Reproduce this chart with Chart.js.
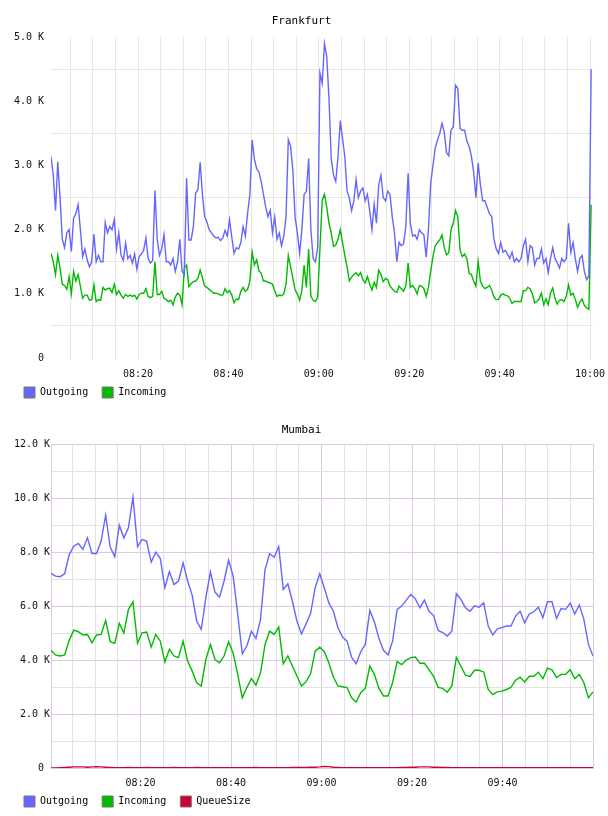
<!DOCTYPE html>
<html>
<head>
<meta charset="utf-8">
<script src="https://cdn.jsdelivr.net/npm/chart.js@4.4.1/dist/chart.umd.min.js"></script>
<style>
  html, body { margin: 0; padding: 0; background: #fff; overflow: hidden; }
  #wrap { position: relative; width: 608px; height: 816px; }
  canvas { position: absolute; left: 0; }
  #frankfurt { top: 0; }
  #mumbai { top: 407px; }
</style>
</head>
<body>
<div id="wrap">
  <canvas id="frankfurt" width="608" height="408"></canvas>
  <canvas id="mumbai" width="608" height="410"></canvas>
</div>
<script>
/////////////////////
//    Constants    //
/////////////////////
const FONT = "'DejaVu Sans Mono', 'Liberation Mono', monospace";
const COLOR_OUT = '#6666ff';
const COLOR_IN = '#00bb00';
const COLOR_QUEUE = '#cc0033';
const GRID_GREY = '#e6e6e6';
const GRID_MINOR = '#e2e2e2';
const GRID_PURPLE = '#dfc6e6';

// Frankfurt: one sample every 30 s, first at 08:00:45 (minutes after 08:00), values in K
const FRANKFURT_START = 0.75;
const FRANKFURT_STEP = 0.5;
const frankfurtOutgoing = [
  3.14, 2.85, 2.3, 3.06, 2.5, 1.85, 1.72, 1.95, 2.0, 1.66,
  2.18, 2.25, 2.39, 2.0, 1.58, 1.7, 1.53, 1.42, 1.5, 1.93,
  1.5, 1.6, 1.5, 1.5, 2.11, 1.95, 2.05, 2.0, 2.16, 1.7,
  1.95, 1.6, 1.52, 1.79, 1.55, 1.6, 1.48, 1.62, 1.38, 1.58,
  1.62, 1.68, 1.87, 1.55, 1.48, 1.52, 2.61, 1.85, 1.6, 1.7,
  1.92, 1.5, 1.5, 1.45, 1.55, 1.35, 1.5, 1.85, 1.35, 1.3,
  2.8, 1.84, 1.84, 2.05, 2.57, 2.62, 3.05, 2.55, 2.2, 2.12,
  2.0, 1.95, 1.9, 1.87, 1.88, 1.83, 1.87, 1.99, 1.9, 2.15,
  1.88, 1.63, 1.72, 1.7, 1.8, 2.05, 1.9, 2.26, 2.55, 3.4,
  3.1, 2.95, 2.9, 2.75, 2.55, 2.35, 2.2, 2.3, 1.95, 2.2,
  1.85, 1.95, 1.75, 1.9, 2.2, 3.4, 3.3, 2.93, 2.2, 1.95,
  1.63, 2.0, 2.55, 2.6, 3.11, 2.0, 1.55, 1.5, 1.72, 4.44,
  4.28, 4.9, 4.7, 4.05, 3.1, 2.85, 2.75, 3.14, 3.7, 3.42,
  3.14, 2.6, 2.5, 2.3, 2.45, 2.78, 2.5, 2.6, 2.65, 2.45,
  2.55, 2.3, 2.0, 2.4, 2.1, 2.7, 2.85, 2.5, 2.45, 2.6,
  2.55, 2.2, 1.95, 1.5, 1.8, 1.75, 1.78, 2.05, 2.88, 2.1,
  1.9, 1.92, 1.85, 2.0, 1.95, 1.92, 1.57, 2.0, 2.72, 3.0,
  3.27, 3.4, 3.5, 3.66, 3.52, 3.2, 3.15, 3.55, 3.6, 4.25,
  4.2, 3.58, 3.55, 3.55, 3.38, 3.3, 3.15, 2.9, 2.5, 3.04,
  2.7, 2.45, 2.45, 2.35, 2.25, 2.2, 1.85, 1.7, 1.63, 1.8,
  1.65, 1.68, 1.62, 1.55, 1.65, 1.5, 1.55, 1.5, 1.55, 1.75,
  1.85, 1.5, 1.75, 1.72, 1.45, 1.55, 1.55, 1.7, 1.48, 1.55,
  1.33, 1.55, 1.72, 1.55, 1.48, 1.4, 1.55, 1.5, 1.55, 2.1,
  1.65, 1.8, 1.55, 1.35, 1.55, 1.6, 1.35, 1.22, 1.28, 4.5
];
const frankfurtIncoming = [
  1.63, 1.5, 1.3, 1.6, 1.4, 1.15, 1.13, 1.07, 1.27, 1.0,
  1.35, 1.2, 1.3, 1.12, 0.93, 0.98, 0.98, 0.9, 0.91, 1.14,
  0.88, 0.91, 0.9, 1.1, 1.06, 1.08, 1.09, 1.02, 1.15, 0.99,
  1.05, 0.98, 0.93, 0.99, 0.96, 0.98, 0.96, 0.98, 0.92, 0.99,
  1.01, 1.01, 1.08, 0.96, 0.94, 0.96, 1.5, 0.99, 0.99, 1.04,
  0.93, 0.91, 0.88, 0.9, 0.83, 0.95, 1.01, 0.98, 0.83, 1.4,
  1.45, 1.11, 1.16, 1.19, 1.2, 1.24, 1.37, 1.25, 1.12, 1.1,
  1.07, 1.04, 1.01, 1.01, 1.0, 0.98, 0.98, 1.08, 1.02, 1.05,
  0.98, 0.86, 0.92, 0.91, 1.04, 1.1, 1.04, 1.07, 1.2, 1.65,
  1.45, 1.53, 1.36, 1.32, 1.2, 1.2, 1.18, 1.17, 1.15, 1.05,
  0.96, 0.98, 0.97, 1.0, 1.15, 1.6, 1.42, 1.25, 1.06, 1.0,
  0.9, 1.05, 1.45, 1.1, 1.7, 0.96, 0.9, 0.88, 0.95, 1.7,
  2.46, 2.55, 2.35, 2.1, 1.95, 1.74, 1.76, 1.85, 2.0, 1.8,
  1.6, 1.42, 1.2, 1.26, 1.3, 1.33, 1.28, 1.33, 1.22, 1.17,
  1.27, 1.15, 1.06, 1.18, 1.1, 1.37, 1.3, 1.19, 1.24, 1.22,
  1.12, 1.08, 1.04, 1.02, 1.12, 1.08, 1.04, 1.12, 1.48, 1.1,
  1.13, 1.08, 1.0, 1.13, 1.12, 1.08, 0.96, 1.1, 1.35, 1.58,
  1.75, 1.8, 1.84, 1.92, 1.72, 1.61, 1.64, 2.0, 2.1, 2.3,
  2.2, 1.68, 1.58, 1.62, 1.55, 1.32, 1.3, 1.2, 1.12, 1.5,
  1.2, 1.12, 1.08, 1.1, 1.13, 1.06, 0.95, 0.91, 0.91, 0.98,
  1.0, 0.98, 0.97, 0.93, 0.85, 0.88, 0.88, 0.88, 0.88, 1.05,
  1.05, 1.1, 1.08, 1.0, 0.86, 0.88, 0.92, 1.01, 0.83, 0.92,
  0.83, 1.01, 1.09, 0.93, 0.84, 0.9, 0.91, 0.88, 0.96, 1.14,
  0.98, 1.01, 0.91, 0.79, 0.87, 0.92, 0.82, 0.78, 0.76, 2.39
];

// Mumbai: one sample about every minute, first at 08:00:12, values in K
const MUMBAI_START = 0.2;
const MUMBAI_STEP = 1.0067;
const mumbaiOutgoing = [
  7.21, 7.11, 7.09, 7.2, 7.91, 8.22, 8.32, 8.1, 8.53, 7.95,
  7.95, 8.4, 9.37, 8.19, 7.83, 9.0, 8.53, 8.9, 10.04, 8.2,
  8.47, 8.4, 7.63, 8.0, 7.76, 6.68, 7.28, 6.8, 6.93, 7.6,
  6.93, 6.4, 5.44, 5.14, 6.31, 7.27, 6.52, 6.33, 6.93, 7.7,
  7.11, 5.69, 4.23, 4.52, 5.07, 4.8, 5.51, 7.36, 7.94, 7.81,
  8.2, 6.62, 6.83, 6.19, 5.44, 4.97, 5.34, 5.73, 6.68, 7.2,
  6.68, 6.12, 5.81, 5.2, 4.85, 4.7, 4.11, 3.86, 4.31, 4.58,
  5.84, 5.42, 4.8, 4.36, 4.19, 4.7, 5.88, 6.0, 6.22, 6.43,
  6.27, 5.94, 6.22, 5.81, 5.65, 5.1, 5.02, 4.89, 5.07, 6.46,
  6.25, 5.94, 5.81, 6.01, 5.96, 6.12, 5.26, 4.93, 5.16, 5.2,
  5.26, 5.26, 5.63, 5.81, 5.38, 5.71, 5.79, 5.96, 5.57, 6.16,
  6.16, 5.54, 5.91, 5.88, 6.11, 5.71, 6.04, 5.51, 4.58, 4.15
];
const mumbaiIncoming = [
  4.36, 4.19, 4.15, 4.19, 4.73, 5.11, 5.05, 4.93, 4.95, 4.64,
  4.93, 4.95, 5.47, 4.68, 4.62, 5.36, 5.0, 5.88, 6.16, 4.62,
  5.01, 5.04, 4.48, 4.95, 4.7, 3.93, 4.4, 4.15, 4.09, 4.7,
  3.96, 3.59, 3.16, 3.04, 4.02, 4.58, 4.02, 3.9, 4.15, 4.68,
  4.25, 3.47, 2.6, 2.98, 3.31, 3.07, 3.53, 4.58, 5.07, 4.95,
  5.22, 3.86, 4.15, 3.78, 3.41, 3.04, 3.2, 3.5, 4.33, 4.48,
  4.31, 3.9, 3.37, 3.04, 3.01, 2.98, 2.6, 2.44, 2.79, 2.95,
  3.78, 3.47, 2.95, 2.67, 2.67, 3.16, 3.94, 3.83, 4.0, 4.09,
  4.11, 3.88, 3.88, 3.64, 3.4, 2.99, 2.95, 2.81, 3.04, 4.1,
  3.77, 3.44, 3.39, 3.62, 3.62, 3.56, 2.91, 2.72, 2.82, 2.85,
  2.91, 2.99, 3.25, 3.37, 3.19, 3.4, 3.4, 3.55, 3.31, 3.7,
  3.64, 3.35, 3.47, 3.47, 3.64, 3.31, 3.47, 3.16, 2.6, 2.82
];
const mumbaiQueueSize = [
  0, 0, 0.01, 0.02, 0.03, 0.04, 0.04, 0.04, 0.03, 0.04,
  0.05, 0.04, 0.03, 0.02, 0.01, 0.01, 0.01, 0.02, 0.01, 0.01,
  0.01, 0.02, 0.01, 0.01, 0.01, 0.01, 0.01, 0.02, 0.01, 0.01,
  0.01, 0.01, 0.02, 0.01, 0.01, 0.01, 0.01, 0.01, 0.01, 0.01,
  0.01, 0.01, 0.01, 0.01, 0.01, 0.02, 0.01, 0.01, 0.01, 0.01,
  0.01, 0.01, 0.01, 0.02, 0.02, 0.02, 0.02, 0.03, 0.03, 0.04,
  0.06, 0.05, 0.03, 0.02, 0.01, 0.01, 0.01, 0.01, 0.01, 0.01,
  0.01, 0.01, 0.01, 0.01, 0.01, 0.01, 0.01, 0.02, 0.02, 0.03,
  0.03, 0.04, 0.04, 0.04, 0.03, 0.03, 0.02, 0.02, 0.01, 0.01,
  0.01, 0.01, 0.01, 0.01, 0.01, 0.01, 0.01, 0.01, 0.01, 0.01,
  0.01, 0.01, 0.01, 0.01, 0.01, 0.01, 0.01, 0.01, 0.01, 0.01,
  0.01, 0.01, 0.01, 0.01, 0.01, 0.01, 0.01, 0.01, 0.01, 0.01
];

// Tick positions (minutes after 08:00 / K)
const timeTicks = [5, 10, 15, 20, 25, 30, 35, 40, 45, 50, 55, 60,
  65, 70, 75, 80, 85, 90, 95, 100, 105, 110, 115, 120];
const frankfurtValueTicks = [0, 0.5, 1, 1.5, 2, 2.5, 3, 3.5, 4, 4.5, 5];
const mumbaiValueTicks = [0, 1, 2, 3, 4, 5, 6, 7, 8, 9, 10, 11, 12];


////////////////////////////
//    Helper Functions    //
////////////////////////////
function clock(min) {
  const h = 8 + Math.floor(min / 60);
  const m = min % 60;
  return String(h).padStart(2, '0') + ':' + String(m).padStart(2, '0');
}

function kilo(v) {
  return v === 0 ? '0' : v.toFixed(1) + ' K';
}

function points(start, step, values) {
  return values.map((v, i) => ({ x: start + i * step, y: v }));
}

function line(label, color, data) {
  return {
    label,
    data,
    borderColor: color,
    backgroundColor: color,
    borderWidth: 1.4,
    pointRadius: 0,
    tension: 0,
    fill: false
  };
}

function commonPlugins(title, titlePadding) {
  return {
    title: {
      display: true,
      text: title,
      color: '#000',
      font: { family: FONT, size: 11, weight: 'normal' },
      padding: titlePadding
    },
    legend: {
      position: 'bottom',
      align: 'start',
      labels: {
        boxWidth: 11,
        boxHeight: 11,
        padding: 14,
        color: '#000',
        font: { family: FONT, size: 10 },
        generateLabels: (chart) => chart.data.datasets.map((ds, i) => ({
          text: ds.label,
          fillStyle: ds.borderColor,
          strokeStyle: '#777',
          lineWidth: 1,
          hidden: false,
          datasetIndex: i
        }))
      }
    },
    tooltip: { enabled: false }
  };
}

// The x axis is kept short for the layout, so let its tick labels draw below it
const unclipTimeLabels = {
  id: 'unclipTimeLabels',
  afterLayout(chart) {
    const x = chart.scales.x;
    x.bottom = x.top + 28;
  }
};


///////////////////////
//    Main Script    //
///////////////////////
const tickFont = { family: FONT, size: 10 };

new Chart(document.getElementById('frankfurt'), {
  type: 'line',
  data: {
    datasets: [
      line('Outgoing', COLOR_OUT, points(FRANKFURT_START, FRANKFURT_STEP, frankfurtOutgoing)),
      line('Incoming', COLOR_IN, points(FRANKFURT_START, FRANKFURT_STEP, frankfurtIncoming))
    ]
  },
  options: {
    responsive: false,
    animation: false,
    events: [],
    layout: { padding: { left: 10, right: 15, top: 0, bottom: 0 } },
    scales: {
      x: {
        type: 'linear',
        min: 0.75,
        max: 120.66,
        afterBuildTicks: (s) => { s.ticks = timeTicks.map((v) => ({ value: v })); },
        afterFit: (s) => { s.height = 15; s.paddingLeft = 0; s.paddingRight = 0; },
        grid: { color: GRID_GREY, tickLength: 2 },
        border: { display: false },
        ticks: {
          autoSkip: false,
          maxRotation: 0,
          padding: 8,
          color: '#111',
          font: tickFont,
          callback: (v) => (v % 20 === 0 ? clock(v) : '')
        }
      },
      y: {
        min: 0,
        max: 5,
        afterBuildTicks: (s) => { s.ticks = frankfurtValueTicks.map((v) => ({ value: v })); },
        afterFit: (s) => { s.width = 41; },
        grid: {
          drawTicks: false,
          color: (ctx) => (ctx.tick && ctx.tick.value % 1 === 0.5 ? GRID_GREY : 'rgba(0,0,0,0)')
        },
        border: { display: false },
        ticks: {
          autoSkip: false,
          padding: 7,
          color: '#111',
          font: tickFont,
          callback: (v) => (v % 1 === 0 ? kilo(v) : '')
        }
      }
    },
    plugins: commonPlugins('Frankfurt', { top: 15, bottom: 9 })
  },
  plugins: [unclipTimeLabels]
});

new Chart(document.getElementById('mumbai'), {
  type: 'line',
  data: {
    datasets: [
      line('Outgoing', COLOR_OUT, points(MUMBAI_START, MUMBAI_STEP, mumbaiOutgoing)),
      line('Incoming', COLOR_IN, points(MUMBAI_START, MUMBAI_STEP, mumbaiIncoming)),
      line('QueueSize', COLOR_QUEUE, points(MUMBAI_START, MUMBAI_STEP, mumbaiQueueSize))
    ]
  },
  options: {
    responsive: false,
    animation: false,
    events: [],
    layout: { padding: { left: 10, right: 15, top: 0, bottom: 0 } },
    scales: {
      x: {
        type: 'linear',
        min: 0.2,
        max: 120,
        afterBuildTicks: (s) => { s.ticks = timeTicks.map((v) => ({ value: v })); },
        afterFit: (s) => { s.height = 14; s.paddingLeft = 0; s.paddingRight = 0; },
        grid: {
          drawTicks: false,
          color: (ctx) => (ctx.tick && ctx.tick.value % 20 === 0 ? GRID_PURPLE : GRID_MINOR)
        },
        border: { display: true, color: GRID_PURPLE },
        ticks: {
          autoSkip: false,
          maxRotation: 0,
          padding: 9,
          color: '#111',
          font: tickFont,
          callback: (v) => (v % 20 === 0 && v < 120 ? clock(v) : '')
        }
      },
      y: {
        min: 0,
        max: 12,
        afterBuildTicks: (s) => { s.ticks = mumbaiValueTicks.map((v) => ({ value: v })); },
        afterFit: (s) => { s.width = 41; },
        grid: {
          drawTicks: false,
          color: (ctx) => (ctx.tick && ctx.tick.value % 2 === 0 ? GRID_PURPLE : GRID_MINOR)
        },
        border: { display: true, color: GRID_PURPLE },
        ticks: {
          autoSkip: false,
          padding: 1,
          color: '#111',
          font: tickFont,
          callback: (v) => (v % 2 === 0 ? (v === 0 ? '0 ' : kilo(v)) : '')
        }
      }
    },
    plugins: commonPlugins('Mumbai', { top: 17, bottom: 7 })
  },
  plugins: [unclipTimeLabels]
});
</script>
</body>
</html>
